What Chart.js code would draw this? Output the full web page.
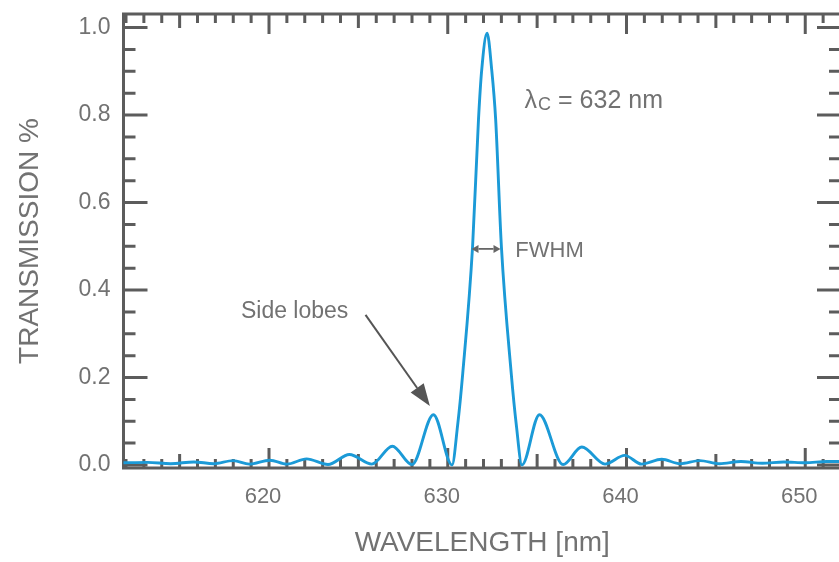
<!DOCTYPE html>
<html>
<head>
<meta charset="utf-8">
<script src="https://cdn.jsdelivr.net/npm/chart.js@4.4.0/dist/chart.umd.min.js"></script>
<style>
html, body { margin: 0; padding: 0; background: #fff; overflow: hidden; }
#wrap { position: absolute; left: 0; top: 0; width: 850px; height: 562px; }
</style>
</head>
<body>
<div id="wrap"><canvas id="chart" width="850" height="562"></canvas></div>
<script>
// --- data ---
const wavelength = [611.8, 613.2, 614.5, 615.8, 616.9, 618.0, 618.9, 620.05, 621.0, 622.1,
    623.3, 624.5, 625.75, 626.9, 628.0, 629.2, 630.24, 630.55, 630.84, 631.39,
    631.72, 631.9, 632.2, 632.46, 632.68, 633.0, 633.55, 633.84, 634.15, 635.13,
    636.45, 637.5, 638.8, 639.9, 640.85, 641.97, 643.0, 644.1, 645.2, 646.4,
    647.6, 648.8, 650.0, 651.2, 652.2];
const transmission = [0.005, 0.006, 0.003, 0.007, 0.003, 0.010, 0.002, 0.011, 0.002, 0.014,
    0.001, 0.024, 0.002, 0.043, 0.001, 0.115, 0.0, 0.09, 0.21, 0.50,
    0.79, 0.903, 0.987, 0.903, 0.79, 0.50, 0.21, 0.09, 0.0, 0.115,
    0.001, 0.041, 0.002, 0.022, 0.002, 0.013, 0.003, 0.010, 0.003, 0.008,
    0.004, 0.007, 0.005, 0.008, 0.008];
const xTickValues = [620, 630, 640, 650];
const yTickValues = [0, 0.2, 0.4, 0.6, 0.8, 1.0];

const textGray = '#727272';
const axisGray = '#5c5c5c';
const curveBlue = '#1b9ad7';
const fontFamily = '"Liberation Sans", Arial, sans-serif';

// frame with inward ticks on all four sides
const frameTicks = {
    id: 'frameTicks',
    beforeDatasetsDraw(chart) {
        const { ctx, chartArea: a, scales: { x, y } } = chart;
        ctx.save();
        ctx.strokeStyle = axisGray;
        ctx.lineWidth = 3;
        ctx.lineCap = 'butt';
        ctx.strokeRect(a.left, a.top, a.right - a.left, a.bottom - a.top);
        ctx.beginPath();
        for (let v = Math.ceil(x.min); v <= x.max; v++) {
            const px = x.getPixelForValue(v);
            const len = v % 10 === 0 ? 20 : (v % 5 === 0 ? 14 : 9);
            ctx.moveTo(px, a.top); ctx.lineTo(px, a.top + len);
            ctx.moveTo(px, a.bottom); ctx.lineTo(px, a.bottom - len);
        }
        for (let i = 0; i <= 20; i++) {
            const py = y.getPixelForValue(i * 0.05);
            const len = i % 4 === 0 ? 24 : 12;
            ctx.moveTo(a.left, py); ctx.lineTo(a.left + len, py);
            ctx.moveTo(a.right, py); ctx.lineTo(a.right - len, py);
        }
        ctx.stroke();
        ctx.restore();
    }
};

function arrow(ctx, x1, y1, x2, y2, headLen, headHalf) {
    const ang = Math.atan2(y2 - y1, x2 - x1);
    const bx = x2 - headLen * Math.cos(ang), by = y2 - headLen * Math.sin(ang);
    ctx.beginPath();
    ctx.moveTo(x1, y1); ctx.lineTo(bx, by);
    ctx.stroke();
    ctx.beginPath();
    ctx.moveTo(x2, y2);
    ctx.lineTo(bx + headHalf * Math.sin(ang), by - headHalf * Math.cos(ang));
    ctx.lineTo(bx - headHalf * Math.sin(ang), by + headHalf * Math.cos(ang));
    ctx.closePath();
    ctx.fill();
}

// annotation anchors, in data units
const sideLobeLabel = [618.43, 0.35];
const sideLobeArrow = [[625.4, 0.343], [629.0, 0.135]];
const fwhmLabel = [633.78, 0.489];
const fwhmArrow = [[631.33, 632.95], 0.494];
const centerLabel = [634.3, 0.832];

const annotations = {
    id: 'annotations',
    afterDraw(chart) {
        const { ctx, scales: { x, y } } = chart;
        ctx.save();
        ctx.fillStyle = textGray;
        ctx.textBaseline = 'middle';
        ctx.textAlign = 'left';
        ctx.font = '23px ' + fontFamily;
        ctx.fillText('Side lobes', x.getPixelForValue(sideLobeLabel[0]), y.getPixelForValue(sideLobeLabel[1]));
        ctx.font = '22px ' + fontFamily;
        ctx.fillText('FWHM', x.getPixelForValue(fwhmLabel[0]), y.getPixelForValue(fwhmLabel[1]));

        // λc = 632 nm
        let lx = x.getPixelForValue(centerLabel[0]);
        const ly = y.getPixelForValue(centerLabel[1]);
        ctx.font = '25px ' + fontFamily;
        ctx.fillText('λ', lx, ly);
        lx += ctx.measureText('λ').width + 1;
        ctx.font = '18px ' + fontFamily;
        ctx.fillText('C', lx, ly + 4);
        lx += ctx.measureText('C').width;
        ctx.font = '25px ' + fontFamily;
        ctx.fillText(' = 632 nm', lx, ly);

        // side lobe arrow
        ctx.strokeStyle = '#555';
        ctx.fillStyle = '#555';
        ctx.lineWidth = 2;
        arrow(ctx,
            x.getPixelForValue(sideLobeArrow[0][0]), y.getPixelForValue(sideLobeArrow[0][1]),
            x.getPixelForValue(sideLobeArrow[1][0]), y.getPixelForValue(sideLobeArrow[1][1]),
            22, 8);

        // FWHM double arrow
        const fx1 = x.getPixelForValue(fwhmArrow[0][0]);
        const fx2 = x.getPixelForValue(fwhmArrow[0][1]);
        const fy = y.getPixelForValue(fwhmArrow[1]);
        const mid = (fx1 + fx2) / 2;
        ctx.strokeStyle = '#666';
        ctx.fillStyle = '#666';
        ctx.lineWidth = 1.8;
        arrow(ctx, mid, fy, fx1, fy, 7, 4);
        arrow(ctx, mid, fy, fx2, fy, 7, 4);
        ctx.restore();
    }
};

new Chart(document.getElementById('chart'), {
    type: 'line',
    data: {
        datasets: [{
            data: wavelength.map((w, i) => ({ x: w, y: transmission[i] })),
            borderColor: curveBlue,
            borderWidth: 2.9,
            pointRadius: 0,
            fill: false,
            cubicInterpolationMode: 'monotone'
        }]
    },
    options: {
        responsive: false,
        animation: false,
        layout: { padding: { top: 14, right: 9, left: 0, bottom: 0 } },
        plugins: { legend: { display: false }, tooltip: { enabled: false } },
        scales: {
            x: {
                type: 'linear',
                min: 611.86,
                max: 652.0,
                afterBuildTicks: s => { s.ticks = xTickValues.map(v => ({ value: v })); },
                afterFit: s => { s.height = 94; s.paddingLeft = 0; s.paddingRight = 0; },
                grid: { display: false, drawTicks: false },
                border: { display: false },
                ticks: {
                    color: textGray,
                    font: { family: fontFamily, size: 22 },
                    padding: 16,
                    labelOffset: -6,
                    maxRotation: 0,
                    autoSkip: false,
                    callback: v => String(v)
                },
                title: {
                    display: true,
                    text: 'WAVELENGTH [nm]',
                    color: textGray,
                    font: { family: fontFamily, size: 28 },
                    padding: { top: 0, bottom: 2 }
                }
            },
            y: {
                type: 'linear',
                min: -0.00686,
                max: 1.0309,
                afterBuildTicks: s => { s.ticks = yTickValues.map(v => ({ value: v })); },
                afterFit: s => { s.width = 123.5; s.paddingTop = 0; s.paddingBottom = 0; },
                grid: { display: false, drawTicks: false },
                border: { display: false },
                ticks: {
                    color: textGray,
                    font: { family: fontFamily, size: 23 },
                    padding: 13,
                    callback: v => v.toFixed(1)
                },
                title: {
                    display: true,
                    text: 'TRANSMISSION %',
                    color: textGray,
                    font: { family: fontFamily, size: 28 },
                    padding: { top: 13, bottom: 0 }
                }
            }
        }
    },
    plugins: [frameTicks, annotations]
});
</script>
</body>
</html>
